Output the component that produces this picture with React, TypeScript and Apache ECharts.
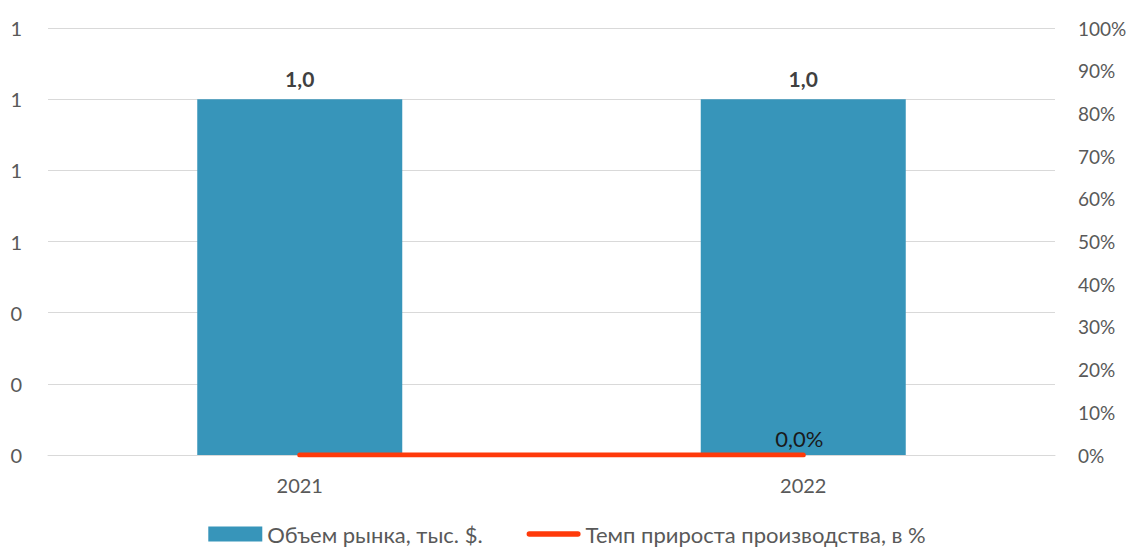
import React, { useEffect, useRef } from "react";
import * as echarts from "echarts";

const categories = ["2021", "2022"];
const marketVolume = [1.0, 1.0];
const growthRate = [0, 0];
const seriesNames = ["Объем рынка, тыс. $.", "Темп прироста производства, в %"];

export default function App() {
  const ref = useRef<HTMLDivElement>(null);
  useEffect(() => {
    const chart = echarts.init(ref.current!, null, { renderer: "svg" });
    const font = "Lato, 'Noto Sans', sans-serif";
    chart.setOption({
      animation: false,
      textStyle: { fontFamily: font },
      grid: { left: 48, right: 79, top: 28, bottom: 95, containLabel: false },
      legend: {
        bottom: 0,
        left: "center",
        itemGap: 44,
        itemWidth: 54,
        itemHeight: 15,
        textStyle: { fontSize: 22, color: "#595959", fontFamily: font },
        data: [
          { name: seriesNames[0], icon: "rect" },
          { name: seriesNames[1], icon: "path://M3,0 H57 A3,3 0 0 1 57,6 H3 A3,3 0 0 1 3,0 Z" },
        ],
      },
      xAxis: {
        type: "category",
        data: categories,
        boundaryGap: true,
        axisLine: { show: true, lineStyle: { color: "#d9d9d9", width: 1 } },
        axisTick: { show: false },
        axisLabel: { fontSize: 20, color: "#595959", margin: 20, fontFamily: font },
      },
      yAxis: [
        {
          type: "value",
          min: 0,
          max: 1.2,
          interval: 0.2,
          axisLine: { show: false },
          axisTick: { show: false },
          splitLine: { show: true, lineStyle: { color: "#d9d9d9", width: 1 } },
          axisLabel: {
            fontSize: 20,
            color: "#595959",
            margin: 26,
            fontFamily: font,
            formatter: (v: number) => v.toFixed(0),
          },
        },
        {
          type: "value",
          min: 0,
          max: 100,
          interval: 10,
          position: "right",
          axisLine: { show: false },
          axisTick: { show: false },
          splitLine: { show: false },
          axisLabel: {
            fontSize: 19,
            color: "#595959",
            margin: 23,
            fontFamily: font,
            formatter: (v: number) => v + "%",
          },
        },
      ],
      series: [
        {
          name: seriesNames[0],
          type: "bar",
          yAxisIndex: 0,
          data: marketVolume,
          barWidth: 205,
          itemStyle: { color: "#3795BA" },
          label: {
            show: true,
            position: "top",
            distance: 10,
            fontSize: 21,
            fontWeight: "bold",
            color: "#404040",
            fontFamily: font,
            formatter: (p: any) => p.value.toFixed(1).replace(".", ","),
          },
        },
        {
          name: seriesNames[1],
          type: "line",
          yAxisIndex: 1,
          data: growthRate.map((v, i) =>
            i === growthRate.length - 1 ? { value: v, label: { show: true } } : { value: v }
          ),
          symbol: "circle",
          symbolSize: 1,
          showSymbol: true,
          lineStyle: { color: "#FF3A0A", width: 5, cap: "round" },
          itemStyle: { color: "#FF3A0A" },
          label: {
            show: false,
            position: "top",
            distance: 5,
            fontSize: 22,
            color: "#1a1a1a",
            fontFamily: font,
            offset: [-4, 0],
            formatter: (p: any) => p.value.toFixed(1).replace(".", ",") + "%",
          },
        },
      ],
    });
    return () => chart.dispose();
  }, []);
  return <div ref={ref} style={{ width: 1134, height: 550, marginLeft: -8, marginTop: -8 }} />;
}
